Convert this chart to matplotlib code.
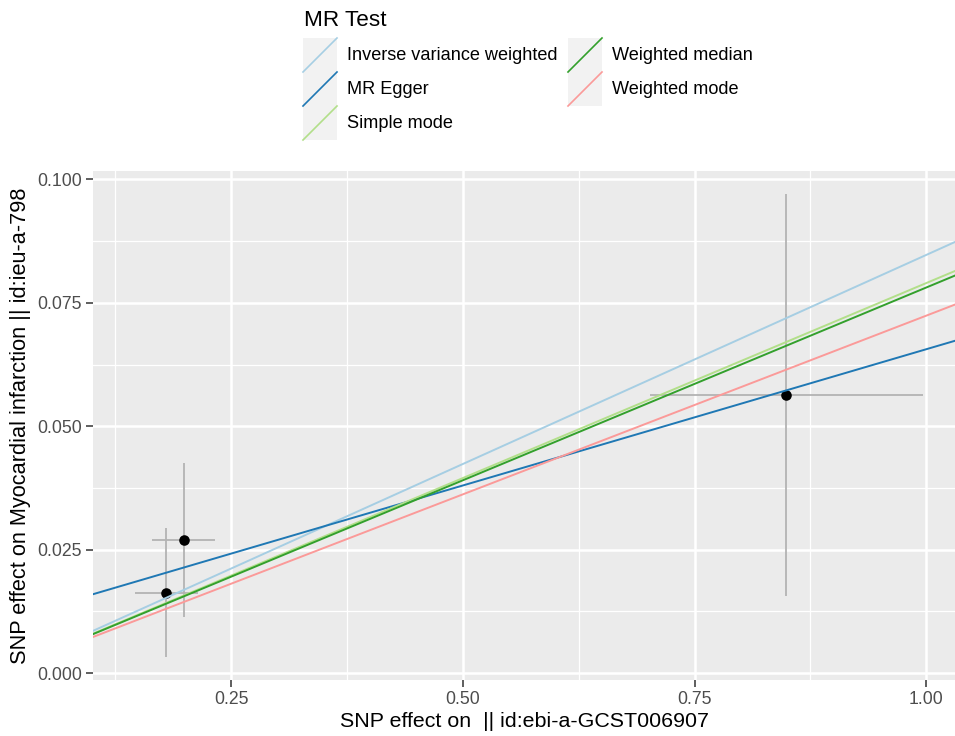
import matplotlib
matplotlib.use("Agg")
import matplotlib.pyplot as plt
from matplotlib.patches import Rectangle
from matplotlib.lines import Line2D
import numpy as np

plt.rcParams['font.family'] = ['Liberation Sans', 'DejaVu Sans']

# SNP data
beta_exp = [0.180, 0.199, 0.849]
se_exp = [0.034, 0.034, 0.147]
beta_out = [0.0163, 0.0269, 0.0563]
se_out = [0.0130, 0.0156, 0.0407]

# MR results
methods = ["Inverse variance weighted", "MR Egger", "Simple mode",
           "Weighted median", "Weighted mode"]
slopes = [0.0847, 0.0552, 0.0790, 0.0781, 0.0724]
intercepts = [0.0, 0.0104, 0.0, 0.0, 0.0]
colors = ["#A6CEE3", "#1F78B4", "#B2DF8A", "#33A02C", "#FB9A99"]

x_ticks = [0.25, 0.50, 0.75, 1.00]
x_ticklabels = ["0.25", "0.50", "0.75", "1.00"]
y_ticks = [0.000, 0.025, 0.050, 0.075, 0.100]
y_ticklabels = ["0.000", "0.025", "0.050", "0.075", "0.100"]

W, H = 955, 736
fig = plt.figure(figsize=(W / 100, H / 100), dpi=100)
fig.patch.set_facecolor("white")

# panel pixel box
pl, pr, pt, pb = 93, 955, 171, 680
ax = fig.add_axes([pl / W, 1 - pb / H, (pr - pl) / W, (pb - pt) / H])
ax.set_facecolor("#EBEBEB")
for s in ax.spines.values():
    s.set_visible(False)

ax.set_xlim(0.101, 1.031)
ax.set_ylim(-0.0014, 0.1017)

# grid
for v in [0.125, 0.375, 0.625, 0.875]:
    ax.axvline(v, color="white", lw=0.9, zorder=0.5)
for v in [0.0125, 0.0375, 0.0625, 0.0875]:
    ax.axhline(v, color="white", lw=0.9, zorder=0.5)
for v in x_ticks:
    ax.axvline(v, color="white", lw=1.8, zorder=0.6)
for v in y_ticks:
    ax.axhline(v, color="white", lw=1.8, zorder=0.6)

# error bars
bx = np.array(beta_exp); by = np.array(beta_out)
sx = np.array(se_exp); sy = np.array(se_out)
ax.vlines(bx, by - sy, by + sy, color="#B3B3B3", lw=1.3, zorder=2)
ax.hlines(by, bx - sx, bx + sx, color="#B3B3B3", lw=1.3, zorder=2)
ax.scatter(bx, by, s=58, color="black", zorder=3, linewidths=0)

xs = np.array([0.0, 1.2])
for m, sl, ic, c in zip(methods, slopes, intercepts, colors):
    ax.plot(xs, ic + sl * xs, color=c, lw=1.4, zorder=4)

ax.set_xticks(x_ticks)
ax.set_xticklabels(x_ticklabels)
ax.set_yticks(y_ticks)
ax.set_yticklabels(y_ticklabels)
ax.tick_params(axis="both", colors="#333333", length=5, width=1.1,
               labelsize=12.7, labelcolor="#4D4D4D", pad=3)
ax.set_xlabel("SNP effect on  || id:ebi-a-GCST006907", fontsize=15.4,
              color="black", labelpad=3)
ax.set_ylabel("SNP effect on Myocardial infarction || id:ieu-a-798",
              fontsize=15.7, color="black", labelpad=4)

# legend (manual, in pixel coords)
lg = fig.add_axes([0, 0, 1, 1], facecolor="none")
lg.set_xlim(0, W)
lg.set_ylim(H, 0)
lg.axis("off")
lg.text(304, 20, "MR Test", fontsize=16.2, va="center", ha="left")
for i, (m, c) in enumerate(zip(methods, colors)):
    col, row = i // 3, i % 3
    kx = 303 + col * 265
    ky = 38 + row * 34
    lg.add_patch(Rectangle((kx, ky), 34, 34, facecolor="#F2F2F2",
                           edgecolor="none"))
    lg.add_line(Line2D([kx, kx + 34], [ky + 34, ky], color=c, lw=1.2))
    lg.text(kx + 44, ky + 17, m, fontsize=13.1, va="center", ha="left")

fig.savefig("out.png", dpi=100)
